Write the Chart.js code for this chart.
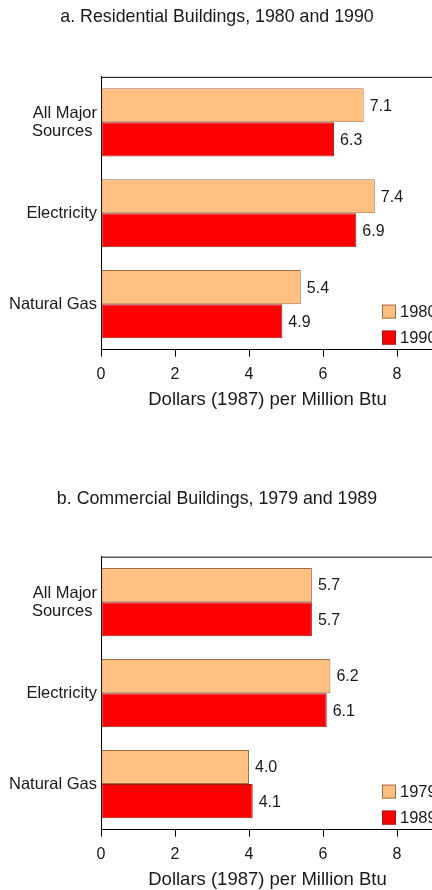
<!DOCTYPE html>
<html>
<head>
<meta charset="utf-8">
<script src="https://cdn.jsdelivr.net/npm/chart.js@4.4.1/dist/chart.umd.min.js"></script>
<style>
  html, body { margin: 0; padding: 0; background: #fff; overflow: hidden; width: 432px; height: 890px; }
  .panel { width: 440px; height: 480px; }
</style>
</head>
<body>
<div class="panel"><canvas id="resChart" width="440" height="480"></canvas></div>
<div class="panel"><canvas id="comChart" width="440" height="480"></canvas></div>
<script>
// categories shared by both panels
const categories = [['All Major', 'Sources '], 'Electricity', 'Natural Gas'];

// a. residential
const resTitle = 'a. Residential Buildings, 1980 and 1990';
const resYears = ['1980', '1990'];
const res1980 = [7.1, 7.4, 5.4];
const res1990 = [6.3, 6.9, 4.9];

// b. commercial
const comTitle = 'b. Commercial Buildings, 1979 and 1989';
const comYears = ['1979', '1989'];
const com1979 = [5.7, 6.2, 4.0];
const com1989 = [5.7, 6.1, 4.1];

const xAxisTitle = 'Dollars (1987) per Million Btu';
const xMax = 9;
const xStep = 2;

const FONT = "'Liberation Sans', Arial, sans-serif";
const lightFill = '#FFBF80', lightEdge = '#A0704A';
const darkFill = '#FF0000', darkEdge = '#9A1C1C';

// value labels at bar ends
const valueLabels = {
    id: 'valueLabels',
    afterDatasetsDraw(chart) {
        const ctx = chart.ctx;
        ctx.save();
        ctx.font = '16px ' + FONT;
        ctx.fillStyle = '#1a1a1a';
        ctx.textAlign = 'left';
        ctx.textBaseline = 'middle';
        chart.data.datasets.forEach((ds, i) => {
            chart.getDatasetMeta(i).data.forEach((bar, j) => {
                ctx.fillText(ds.data[j].toFixed(1), bar.x + 6, bar.y + 1);
            });
        });
        ctx.restore();
    }
};

// top frame line + legend inside plot area
const frameAndLegend = {
    id: 'frameAndLegend',
    afterDraw(chart) {
        const ctx = chart.ctx;
        const area = chart.chartArea;
        ctx.save();
        ctx.strokeStyle = '#000';
        ctx.lineWidth = 1;
        ctx.beginPath();
        ctx.moveTo(area.left, area.top + 0.5);
        ctx.lineTo(area.right, area.top + 0.5);
        ctx.stroke();

        ctx.font = '16.5px ' + FONT;
        ctx.textBaseline = 'middle';
        chart.data.datasets.forEach((ds, i) => {
            const x = area.left + 281;
            const y = area.bottom - 45 + i * 26;
            ctx.fillStyle = ds.backgroundColor;
            ctx.fillRect(x, y, 14, 14);
            ctx.strokeStyle = ds.borderColor;
            ctx.strokeRect(x + 0.5, y + 0.5, 13, 13);
            ctx.fillStyle = '#1a1a1a';
            ctx.fillText(ds.label, x + 18, y + 8);
        });
        ctx.restore();
    }
};

function makeChart(id, title, years, first, second, titleTop, titleBottom) {
    return new Chart(document.getElementById(id), {
        type: 'bar',
        data: {
            labels: categories,
            datasets: [
                {
                    label: years[0],
                    data: first,
                    backgroundColor: lightFill,
                    borderColor: lightEdge,
                    borderWidth: 1,
                    borderSkipped: false,
                },
                {
                    label: years[1],
                    data: second,
                    backgroundColor: darkFill,
                    borderColor: darkEdge,
                    borderWidth: 1,
                    borderSkipped: false,
                },
            ],
        },
        options: {
            indexAxis: 'y',
            responsive: false,
            animation: false,
            layout: { padding: { left: 0, right: 6, top: 0, bottom: 67 } },
            categoryPercentage: 0.75,
            barPercentage: 1.0,
            plugins: {
                legend: { display: false },
                tooltip: { enabled: false },
                title: {
                    display: true,
                    text: title,
                    color: '#1a1a1a',
                    font: { family: FONT, size: 17.8, weight: 'normal' },
                    padding: { top: titleTop, bottom: titleBottom },
                },
            },
            scales: {
                x: {
                    min: 0,
                    max: xMax,
                    grid: { drawOnChartArea: false, drawTicks: true, tickLength: 7, color: '#000' },
                    border: { display: true, color: '#000', width: 1 },
                    ticks: {
                        stepSize: xStep,
                        includeBounds: false,
                        color: '#1a1a1a',
                        padding: 8,
                        maxRotation: 0,
                        font: { family: FONT, size: 16 },
                    },
                    title: {
                        display: true,
                        text: xAxisTitle,
                        color: '#1a1a1a',
                        font: { family: FONT, size: 18.5 },
                        padding: { top: -3, bottom: 2 },
                    },
                },
                y: {
                    grid: { display: false, drawTicks: false },
                    border: { display: true, color: '#000', width: 1 },
                    ticks: {
                        color: '#1a1a1a',
                        padding: 4,
                        font: { family: FONT, size: 16.5, lineHeight: 1.07 },
                    },
                    afterFit(scale) { scale.width = 101; },
                },
            },
        },
        plugins: [valueLabels, frameAndLegend],
    });
}

makeChart('resChart', resTitle, resYears, res1980, res1990, 6.5, 49);
makeChart('comChart', comTitle, comYears, com1979, com1989, 8.3, 47);
</script>
</body>
</html>
